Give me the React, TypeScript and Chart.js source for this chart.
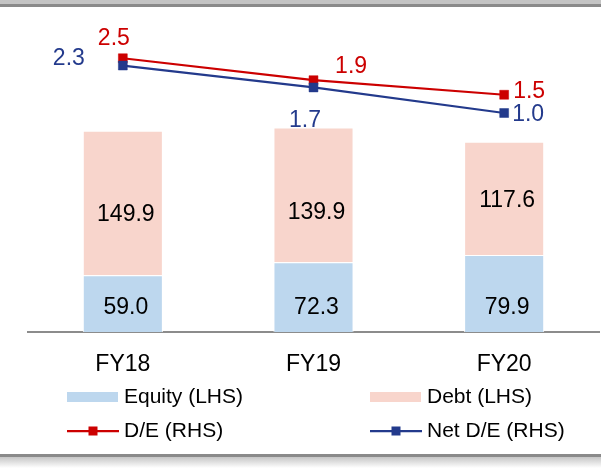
import React, { useEffect, useRef } from "react";
import { Chart, registerables } from "chart.js";

Chart.register(...registerables);

// ---- data ----
const categories = ["FY18", "FY19", "FY20"];
const equity = [59.0, 72.3, 79.9];
const debt = [149.9, 139.9, 117.6];
const deRatio = [2.5, 1.9, 1.5];
const netDeRatio = [2.3, 1.7, 1.0];
const leftAxisMin = 0;
const leftAxisMax = 303;
const rightAxisMin = -5;
const rightAxisMax = 3;

// ---- style ----
const EQUITY_COLOR = "#BDD7EE";
const DEBT_COLOR = "#F8D5CC";
const RED = "#CC0000";
const NAVY = "#233A8C";
const FONT = "'Liberation Sans', Arial, sans-serif";

const deLabelOffsets = [[-9, -19.5], [37.6, -13.7], [25, -3]];
const netLabelOffsets = [[-54, -6.7], [-8.5, 33], [24, 2]];
const debtLabelDy = [12, 18, 2];

const framePlugin = {
  id: "frame",
  beforeDraw(chart: any) {
    const { ctx, width } = chart;
    ctx.save();
    ctx.fillStyle = "#ffffff";
    ctx.fillRect(0, 0, chart.width, chart.height);
    ctx.fillStyle = "#c4c4c4";
    ctx.fillRect(0, 0, width, 4);
    ctx.fillStyle = "#8a8a8a";
    ctx.fillRect(0, 4, width, 3);
    ctx.fillStyle = "#8a8a8a";
    ctx.fillRect(0, 454, width, 3);
    const g = ctx.createLinearGradient(0, 457, 0, 468);
    g.addColorStop(0, "#c6c6c6");
    g.addColorStop(1, "#ffffff");
    ctx.fillStyle = g;
    ctx.fillRect(0, 457, width, 11);
    ctx.restore();
  },
};

const labelPlugin = {
  id: "valueLabels",
  beforeDatasetsDraw(chart: any) {
    const ctx = chart.ctx;
    ctx.save();
    ctx.font = `23px ${FONT}`;
    ctx.textAlign = "center";
    ctx.textBaseline = "middle";
    chart.data.datasets.forEach((ds: any, i: number) => {
      if (ds.type !== "line") return;
      const meta = chart.getDatasetMeta(i);
      meta.data.forEach((pt: any, j: number) => {
        const o = ds.labelOffsets[j];
        ctx.fillStyle = ds.borderColor;
        ctx.fillText(Number(ds.data[j]).toFixed(1), pt.x + o[0], pt.y + o[1]);
      });
    });
    ctx.restore();
  },
  afterDatasetsDraw(chart: any) {
    const ctx = chart.ctx;
    ctx.save();
    ctx.font = `23px ${FONT}`;
    ctx.textAlign = "center";
    ctx.textBaseline = "middle";
    ctx.fillStyle = "#000000";
    chart.data.datasets.forEach((ds: any, i: number) => {
      if (ds.type !== "bar") return;
      const meta = chart.getDatasetMeta(i);
      meta.data.forEach((bar: any, j: number) => {
        const txt = Number(ds.data[j]).toFixed(1);
        let y;
        if (ds.stackPos === 0) y = bar.base - 24.7;
        else y = (bar.y + bar.base) / 2 + debtLabelDy[j];
        ctx.fillText(txt, bar.x + 3, y);
      });
    });
    ctx.restore();
  },
};

const legendPlugin = {
  id: "customLegend",
  afterDraw(chart: any) {
    const ctx = chart.ctx;
    const ds = chart.data.datasets;
    ctx.save();
    ctx.font = `21px ${FONT}`;
    ctx.textAlign = "left";
    ctx.textBaseline = "middle";
    const cols = [67, 370];
    const rows = [397, 431];
    ds.forEach((d: any, i: number) => {
      const col = cols[i % 2];
      const row = rows[Math.floor(i / 2)];
      if (d.type === "bar") {
        ctx.fillStyle = d.backgroundColor;
        ctx.fillRect(col, row - 5, 51, 10);
      } else {
        ctx.strokeStyle = d.borderColor;
        ctx.lineWidth = 2.25;
        ctx.beginPath();
        ctx.moveTo(col, row);
        ctx.lineTo(col + 52, row);
        ctx.stroke();
        ctx.fillStyle = d.borderColor;
        ctx.fillRect(col + 26 - 4.5, row - 4.5, 9, 9);
      }
      ctx.fillStyle = "#000000";
      ctx.fillText(d.label, col + 57, row);
    });
    ctx.restore();
  },
};

export default function App() {
  const ref = useRef<HTMLCanvasElement | null>(null);

  useEffect(() => {
    if (!ref.current) return;
    const chart = new Chart(ref.current, {
      type: "bar",
      data: {
        labels: categories,
        datasets: [
          {
            type: "bar",
            label: "Equity (LHS)",
            data: equity,
            backgroundColor: EQUITY_COLOR,
            borderColor: "#ffffff",
            borderWidth: 1,
            borderSkipped: "bottom",
            yAxisID: "y",
            stack: "s",
            order: 3,
            stackPos: 0,
          } as any,
          {
            type: "bar",
            label: "Debt (LHS)",
            data: debt,
            backgroundColor: DEBT_COLOR,
            borderColor: "#ffffff",
            borderWidth: 1,
            borderSkipped: "bottom",
            yAxisID: "y",
            stack: "s",
            order: 3,
            stackPos: 1,
          } as any,
          {
            type: "line",
            label: "D/E (RHS)",
            data: deRatio,
            borderColor: RED,
            backgroundColor: RED,
            borderWidth: 2.25,
            pointStyle: "rect",
            pointRadius: 6.3,
            pointBackgroundColor: RED,
            pointBorderColor: RED,
            pointBorderWidth: 0.5,
            yAxisID: "y1",
            order: 1,
            labelOffsets: deLabelOffsets,
          } as any,
          {
            type: "line",
            label: "Net D/E (RHS)",
            data: netDeRatio,
            borderColor: NAVY,
            backgroundColor: NAVY,
            borderWidth: 2.25,
            pointStyle: "rect",
            pointRadius: 6.3,
            pointBackgroundColor: NAVY,
            pointBorderColor: NAVY,
            pointBorderWidth: 0.5,
            yAxisID: "y1",
            order: 0,
            labelOffsets: netLabelOffsets,
          } as any,
        ],
      },
      options: {
        responsive: false,
        maintainAspectRatio: false,
        animation: false,
        layout: {
          autoPadding: false,
          padding: { top: 40, left: 27.5, right: 1.5, bottom: 97 },
        },
        plugins: {
          legend: { display: false },
          tooltip: { enabled: false },
        },
        scales: {
          x: {
            stacked: true,
            offset: true,
            grid: { display: false, drawTicks: false },
            border: { display: true, color: "#8c8c8c", width: 2 },
            ticks: {
              color: "#000000",
              font: { family: FONT, size: 23 },
              padding: 19,
              maxRotation: 0,
            },
            afterFit: (s: any) => {
              s.height = 40;
            },
          },
          y: {
            stacked: true,
            display: false,
            min: leftAxisMin,
            max: leftAxisMax,
          },
          y1: {
            display: false,
            position: "right",
            min: rightAxisMin,
            max: rightAxisMax,
          },
        },
        datasets: {
          bar: { barPercentage: 0.42, categoryPercentage: 1 },
        },
      } as any,
      plugins: [framePlugin, labelPlugin, legendPlugin],
    });
    return () => chart.destroy();
  }, []);

  return (
    <canvas
      ref={ref}
      width={601}
      height={469}
      style={{ position: "fixed", left: 0, top: 0, width: 601, height: 469 }}
    />
  );
}
